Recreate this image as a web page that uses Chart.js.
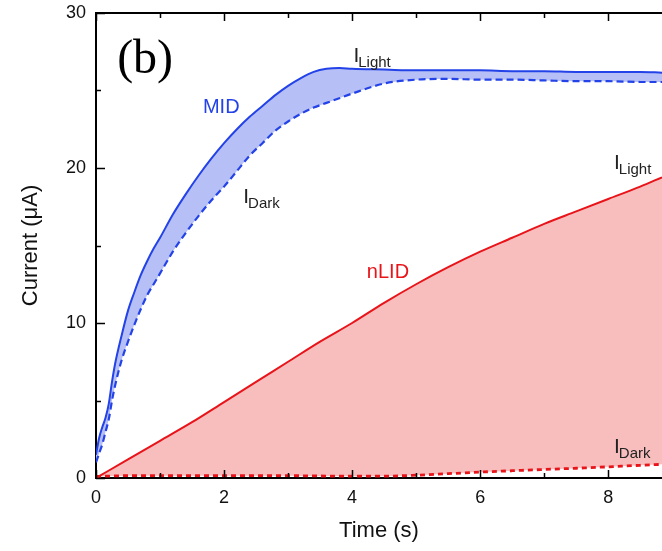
<!DOCTYPE html>
<html><head><meta charset="utf-8">
<script src="https://cdn.jsdelivr.net/npm/chart.js@4.4.0/dist/chart.umd.min.js"></script>
<style>html,body{margin:0;padding:0;background:#fff;overflow:hidden}#wrap{width:662px;height:551px}</style>
</head><body><div id="wrap"><canvas id="c" width="662" height="551"></canvas></div>
<script>
// ---- data ----
const timeMID = [0,0.05,0.1,0.15,0.2,0.25,0.3,0.4,0.5,0.6,0.7,0.8,0.9,1.0,1.2,1.4,1.6,1.8,2.0,2.2,2.4,2.6,2.8,3.0,3.2,3.4,3.6,3.8,4.0,4.5,5.0,5.5,6.0,6.5,7.0,7.5,8.0,8.5,8.84];
const midLight = [1.5,2.6,3.3,3.9,4.8,6.2,7.4,9.2,10.8,12.0,13.1,14.0,14.8,15.5,17.0,18.3,19.5,20.6,21.6,22.5,23.3,24.0,24.7,25.3,25.8,26.2,26.4,26.45,26.4,26.35,26.3,26.3,26.3,26.25,26.25,26.2,26.2,26.2,26.15];
const midDark  = [1.0,1.6,2.2,3.0,3.8,5.0,6.0,7.6,8.8,9.9,10.9,11.8,12.5,13.2,14.6,15.8,16.9,17.9,18.8,19.8,20.8,21.6,22.4,23.0,23.5,23.9,24.2,24.5,24.8,25.45,25.7,25.75,25.7,25.7,25.65,25.6,25.6,25.55,25.55];
const timeNLID = [0,0.5,1,1.5,2,2.5,3,3.5,4,4.5,5,5.5,6,6.5,7,7.5,8,8.5,8.84];
const nlidLight = [0,1.2,2.4,3.6,4.9,6.2,7.5,8.8,10.0,11.3,12.5,13.6,14.6,15.5,16.4,17.2,18.0,18.8,19.4];
const nlidDark  = [0.1,0.15,0.15,0.15,0.15,0.15,0.15,0.13,0.12,0.12,0.18,0.28,0.38,0.47,0.55,0.63,0.72,0.82,0.88];
const xTicks = [0,2,4,6,8];
const xMinor = [1,3,5,7];
const yTicks = [0,10,20,30];
const yMinor = [5,15,25];
const xRange = [0, 8.84];
const yRange = [0, 30];
const labels = [
  {main:'(b)', x:0.33, y:26.15, color:'#000', font:'48px "Liberation Serif", serif'},
  {main:'MID', x:1.67, y:23.55, color:'#2342e8', font:'20px "Liberation Sans", Arial, sans-serif'},
  {main:'nLID', x:4.23, y:12.9, color:'#e8141a', font:'20px "Liberation Sans", Arial, sans-serif'},
  {main:'I', sub:'Light', x:4.02, y:26.84, color:'#222'},
  {main:'I', sub:'Dark', x:2.3, y:17.74, color:'#222'},
  {main:'I', sub:'Light', x:8.09, y:19.94, color:'#222'},
  {main:'I', sub:'Dark', x:8.09, y:1.6, color:'#222'}
];
// ---- styles ----
const BLUE = '#2342e8', BLUE_FILL = '#b6c0f6', RED = '#e8141a', RED_FILL = '#f8bebe';
const FAM = '"Liberation Sans", Arial, sans-serif';

const pts = (xs, ys) => xs.map((x,i)=>({x, y: ys[i]}));

const frame = {
  id:'frame',
  afterDatasetsDraw(chart){
    const {ctx, chartArea:a, scales:{x, y}} = chart;
    ctx.save();
    ctx.strokeStyle = '#000';
    ctx.lineWidth = 2;
    ctx.beginPath();
    ctx.moveTo(a.left - 1, a.top); ctx.lineTo(a.right, a.top);
    ctx.stroke();
    ctx.lineWidth = 1.5;
    ctx.beginPath();
    const xt = (v,len)=>{const p = Math.round(x.getPixelForValue(v))+0.5; ctx.moveTo(p,a.bottom); ctx.lineTo(p,a.bottom-len); ctx.moveTo(p,a.top); ctx.lineTo(p,a.top+len);};
    xTicks.forEach(v=>xt(v,8)); xMinor.forEach(v=>xt(v,5));
    const yt = (v,len)=>{const p = Math.round(y.getPixelForValue(v))+0.5; ctx.moveTo(a.left,p); ctx.lineTo(a.left+len,p);};
    yTicks.forEach(v=>yt(v,9)); yMinor.forEach(v=>yt(v,5));
    ctx.stroke();
    ctx.restore();
  },
  afterDraw(chart){
    const {ctx, scales:{x, y}} = chart;
    ctx.save();
    ctx.textBaseline = 'alphabetic';
    ctx.textAlign = 'left';
    labels.forEach(l=>{
      const px = x.getPixelForValue(l.x), py = y.getPixelForValue(l.y);
      ctx.fillStyle = l.color;
      if (l.sub){
        ctx.font = '21px ' + FAM;
        ctx.fillText(l.main, px, py);
        const w = ctx.measureText(l.main).width;
        ctx.font = '15px ' + FAM;
        ctx.fillText(l.sub, px + w - 1, py + 5);
      } else {
        ctx.font = l.font;
        ctx.fillText(l.main, px, py);
      }
    });
    ctx.restore();
  }
};

new Chart(document.getElementById('c'), {
  type:'line',
  data:{datasets:[
    {label:'MID dark', data:pts(timeMID, midDark), borderColor:BLUE, borderWidth:2.2, borderDash:[7,4], pointRadius:0, fill:false, cubicInterpolationMode:'monotone'},
    {label:'MID light', data:pts(timeMID, midLight), borderColor:BLUE, borderWidth:2, pointRadius:0, fill:{target:0}, backgroundColor:BLUE_FILL, cubicInterpolationMode:'monotone'},
    {label:'nLID dark', data:pts(timeNLID, nlidDark), borderColor:RED, borderWidth:2.8, borderDash:[5,4], pointRadius:0, fill:false, cubicInterpolationMode:'monotone'},
    {label:'nLID light', data:pts(timeNLID, nlidLight), borderColor:RED, borderWidth:2, pointRadius:0, fill:{target:2}, backgroundColor:RED_FILL, cubicInterpolationMode:'monotone'}
  ]},
  options:{
    responsive:false, animation:false, devicePixelRatio:1,
    layout:{padding:{top:13,left:0,right:0,bottom:0}},
    plugins:{legend:{display:false}, tooltip:{enabled:false}, filler:{drawTime:'beforeDatasetsDraw'}},
    scales:{
      x:{type:'linear', min:xRange[0], max:xRange[1],
        afterBuildTicks:s=>{s.ticks = xTicks.map(v=>({value:v}));},
        afterFit:s=>{s.height = 73; s.paddingLeft = 0; s.paddingRight = 0;},
        grid:{display:false, drawTicks:false},
        border:{display:true, color:'#000', width:2},
        ticks:{font:{family:FAM, size:18}, color:'#111', padding:9, maxRotation:0, autoSkip:false},
        title:{display:true, text:'Time (s)', font:{family:FAM, size:22}, color:'#111', padding:{top:0,bottom:7}}
      },
      y:{type:'linear', min:yRange[0], max:yRange[1],
        afterBuildTicks:s=>{s.ticks = yTicks.map(v=>({value:v}));},
        afterFit:s=>{s.width = 96; s.paddingTop = 0; s.paddingBottom = 0;},
        grid:{display:false, drawTicks:false},
        border:{display:true, color:'#000', width:2},
        ticks:{font:{family:FAM, size:18}, color:'#111', padding:10, autoSkip:false},
        title:{display:true, text:'Current (μA)', font:{family:FAM, size:22}, color:'#111', padding:{top:18,bottom:0}}
      }
    }
  },
  plugins:[frame]
});
</script></body></html>
